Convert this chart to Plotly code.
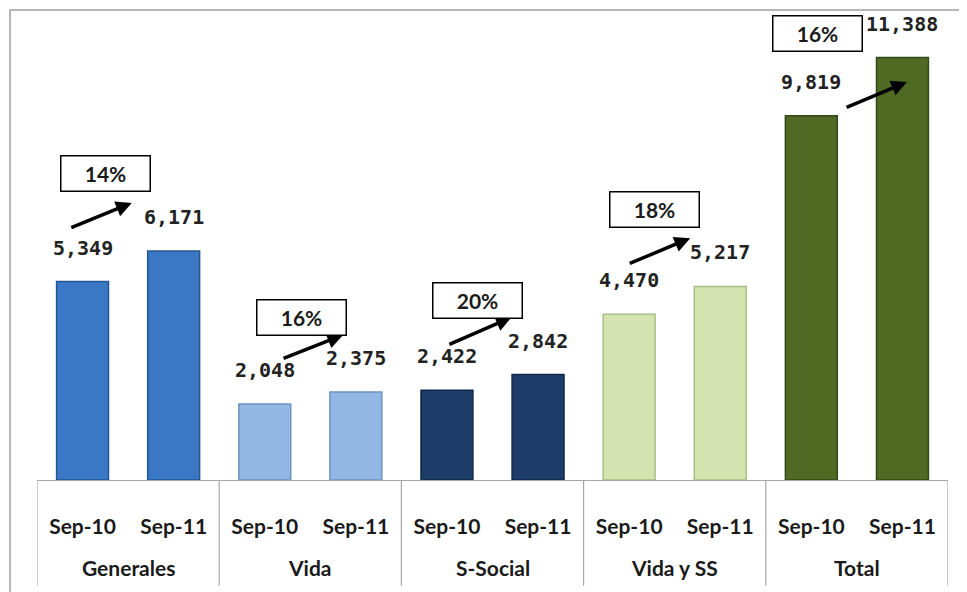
import plotly.graph_objects as go

# ---- data ----
GROUPS = ["Generales", "Vida", "S-Social", "Vida y SS", "Total"]
PERIODS = ["Sep-10", "Sep-11"]
SEP10 = [5349, 2048, 2422, 4470, 9819]
SEP11 = [6171, 2375, 2842, 5217, 11388]
GROWTH = ["14%", "16%", "20%", "18%", "16%"]

# ---- styles / annotation placement (axis units) ----
GROUP_COLORS = ["#3A78C6", "#93B7E4", "#1E3C6A", "#D3E4B0", "#4E6A23"]
GROUP_LINES = ["#24568F", "#6F93C0", "#132849", "#A9BE84", "#34491A"]
BOX_POS = [(0.25, 8250), (2.40, 4370), (4.33, 4850), (6.28, 7300), (8.07, 12050)]
ARROW_TAIL = [(-0.14, 6790), (2.19, 3260), (4.01, 3640), (5.99, 5820), (8.37, 10030)]
ARROW_HEAD = [(0.54, 7470), (2.86, 3910), (4.71, 4390), (6.67, 6520), (9.05, 10730)]

LABEL_FONT = "Lato"
NUM_FONT = "DejaVu Sans Mono"

xs, ys, colors, lines, ticktext = [], [], [], [], []
for g, (a, b) in enumerate(zip(SEP10, SEP11)):
    for p, v in enumerate((a, b)):
        xs.append(g * 2 + p)
        ys.append(v)
        colors.append(GROUP_COLORS[g])
        lines.append(GROUP_LINES[g])
        ticktext.append(PERIODS[p])

fig = go.Figure()
fig.add_trace(
    go.Bar(
        x=xs,
        y=ys,
        width=0.57,
        marker=dict(color=colors, line=dict(color=lines, width=1.5)),
        hoverinfo="skip",
        showlegend=False,
    )
)

annotations = []
# value labels
for x, v in zip(xs, ys):
    annotations.append(
        dict(
            x=x, y=v, xref="x", yref="y", text=f"{v:,}", showarrow=False,
            yanchor="bottom", yshift=20,
            font=dict(family=NUM_FONT, size=20, color="#222222", weight="bold"),
        )
    )
# group names
for g, name in enumerate(GROUPS):
    annotations.append(
        dict(
            x=g * 2 + 0.5, y=-0.187, xref="x", yref="paper", text=name,
            showarrow=False, yanchor="middle",
            font=dict(family=LABEL_FONT, size=21, color="#1a1a1a", weight="bold"),
        )
    )
# growth arrows and boxes
for g in range(len(GROUPS)):
    (tx, ty), (hx, hy) = ARROW_TAIL[g], ARROW_HEAD[g]
    annotations.append(
        dict(
            x=hx, y=hy, ax=tx, ay=ty, xref="x", yref="y", axref="x", ayref="y",
            text="", showarrow=True, arrowhead=2, arrowsize=0.9, arrowwidth=3.5,
            arrowcolor="black",
        )
    )
    bx, by = BOX_POS[g]
    annotations.append(
        dict(
            x=bx, y=by, xref="x", yref="y", text=GROWTH[g], showarrow=False,
            bgcolor="white", bordercolor="black", borderwidth=1.5,
            width=86, height=32,
            font=dict(family=LABEL_FONT, size=21, color="#1a1a1a", weight="bold"),
        )
    )

shapes = []
# group dividers below the axis
for g in range(len(GROUPS) + 1):
    shapes.append(
        dict(
            type="line", xref="x", yref="paper", x0=g * 2 - 0.5, x1=g * 2 - 0.5,
            y0=0, y1=-0.225, line=dict(color="#A6A6A6", width=1.2),
        )
    )
# outer chart frame
shapes.append(
    dict(
        type="rect", xref="paper", yref="paper", x0=-0.0296, x1=1.05,
        y0=-0.3, y1=1.0, line=dict(color="#A0A0A0", width=1.5),
        fillcolor="rgba(0,0,0,0)", layer="below",
    )
)

# the page body adds an 8px offset, so margins are trimmed to compensate
fig.update_layout(
    width=967,
    height=592,
    margin=dict(l=29, r=27, t=2, b=120),
    plot_bgcolor="white",
    paper_bgcolor="white",
    xaxis=dict(
        range=[-0.5, 9.5],
        tickvals=xs,
        ticktext=ticktext,
        ticks="outside",
        ticklen=28,
        tickcolor="rgba(0,0,0,0)",
        tickfont=dict(family=LABEL_FONT, size=21, color="#1a1a1a", weight="bold"),
        showline=True,
        linecolor="#A6A6A6",
        linewidth=1.2,
        showgrid=False,
        zeroline=False,
        fixedrange=True,
    ),
    yaxis=dict(
        range=[0, 12670],
        visible=False,
        showgrid=False,
        zeroline=False,
        fixedrange=True,
    ),
    annotations=annotations,
    shapes=shapes,
)

fig.write_html("out.html")
